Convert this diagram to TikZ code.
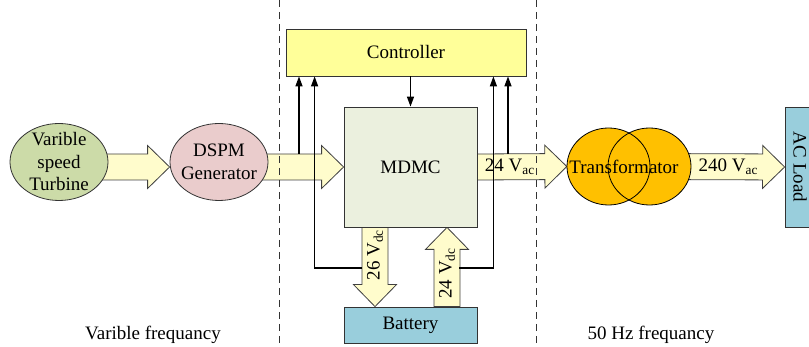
\documentclass[tikz,border=0pt]{standalone}
\usepackage{fontspec}
\setmainfont{Liberation Serif}
\newfontfamily\timesfont{Liberation Serif}
\usetikzlibrary{arrows.meta,calc,shapes.geometric}
\pgfdeclarelayer{background}
\pgfsetlayers{background,main}

\definecolor{turbgreen}{RGB}{204,219,168}
\definecolor{genpink}{RGB}{234,204,204}
\definecolor{ctrlyellow}{RGB}{255,255,153}
\definecolor{mdmcgray}{RGB}{235,240,222}
\definecolor{battblue}{RGB}{153,206,220}
\definecolor{trafo}{RGB}{255,192,0}

\begin{document}
\begin{tikzpicture}[x=1pt, y=-1pt, >={Triangle[length=10pt,width=7pt]},
  every node/.style={font=\timesfont\fontsize{19}{22.5}\selectfont},
  blk/.style={draw=black!80, line width=0.8pt},
  oval/.style={ellipse, draw=black!80, line width=0.8pt, inner sep=-4pt, minimum width=98pt, minimum height=77pt, align=center},
  ctl/.style={line width=1.3pt},
  sep/.style={black!80, line width=0.9pt, dash pattern=on 7pt off 5pt},
  fat/.style={draw=black!75, fill=yellow!20, line width=0.8pt, to path={
    (\tikztostart) coordinate (fs) (\tikztotarget) coordinate (ft) ($(ft)!22pt!(fs)$) coordinate (fh)
    ($(fs)!13pt!90:(ft)$) -- ($(fh)!13pt!90:(ft)$) -- ($(fh)!21.5pt!90:(ft)$) -- (ft)
    -- ($(fh)!21.5pt!-90:(ft)$) -- ($(fh)!13pt!-90:(ft)$) -- ($(fs)!13pt!-90:(ft)$) -- cycle}}]

\useasboundingbox (0,0) rectangle (809,347);

\node[oval, fill=turbgreen] (turb) at (59,162) {Varible\\speed\\Turbine};
\node[oval, fill=genpink] (gen) at (219,162) {DSPM\\Generator};
\node[blk, fill=ctrlyellow, minimum width=240pt, minimum height=47pt] (ctrl) at (406,52.5) {Controller};
\node[blk, fill=mdmcgray, minimum width=133pt, minimum height=120pt] (mdmc) at (410.5,167) {MDMC};
\node[blk, fill=battblue, minimum width=133pt, minimum height=36pt] (batt) at (410.5,325) {Battery};
\node[blk, fill=battblue, minimum width=30pt, minimum height=120pt] (load) at (800,167) {};
\node[rotate=-90] (loadtext) at (load) {AC Load};

% transformator
\node[ellipse, fill=trafo, minimum width=83pt, minimum height=77pt] (trL) at (608.5,166.5) {};
\node[ellipse, fill=trafo, minimum width=83pt, minimum height=77pt] (trR) at (649.5,166.5) {};
\draw[line width=0.8pt] (trL.center) ellipse [x radius=41.5pt, y radius=38.5pt];
\draw[line width=0.8pt] (trR.center) ellipse [x radius=41.5pt, y radius=38.5pt];
\node (trtext) at (624,167) {Transformator};

\coordinate (dcA) at ([xshift=-35.5pt]mdmc.south);
\coordinate (dcB) at ([xshift=-35.5pt]batt.north);
\coordinate (dcC) at ([xshift=36.5pt]batt.north);
\coordinate (dcD) at ([xshift=36.5pt]mdmc.south);

\begin{pgfonlayer}{background}
\draw[fat] (turb.center |- mdmc.west) to (gen.west |- mdmc.west);
\draw[fat] (gen.center |- mdmc.west) to (mdmc.west);
\draw[fat] (mdmc.east) to (trL.west);
\draw[fat] (trR.center) to (load.west);
\draw[fat] (dcA) to (dcB);
\draw[fat] (dcC) to (dcD);
\end{pgfonlayer}

\node[anchor=west] (vac1) at ([xshift=4pt]mdmc.east) {24 V\textsubscript{ac}};
\node[anchor=west] (vac2) at ([xshift=4pt]trR.east) {240 V\textsubscript{ac}};
\node[rotate=90] (vdc1) at ($(dcA)!0.35!(dcB)$) {26 V\textsubscript{dc}};
\node[rotate=90] (vdc2) at ($(dcC)!0.42!(dcD)$) {24 V\textsubscript{dc}};

% control signals
\coordinate (in1) at (299,154);
\coordinate (out1) at (508,154);
\coordinate (fbL) at (362,268);
\coordinate (fbR) at (459,268);
\draw[ctl,->] (in1) -- (in1 |- ctrl.south);
\draw[ctl,->] (fbL) -| ([xshift=29pt]ctrl.south west);
\draw[ctl,->] (fbR) -| ([xshift=-33pt]ctrl.south east);
\draw[ctl,->] (out1) -- (out1 |- ctrl.south);
\draw[ctl,->] (mdmc.north |- ctrl.south) -- (mdmc.north);

\draw[sep] (279,0) -- (279,347);
\draw[sep] (536,0) -- (536,347);

\node (vfreq) at (153,335) {Varible frequancy};
\node (hzfreq) at (651,335) {50 Hz frequancy};

\end{tikzpicture}
\end{document}
